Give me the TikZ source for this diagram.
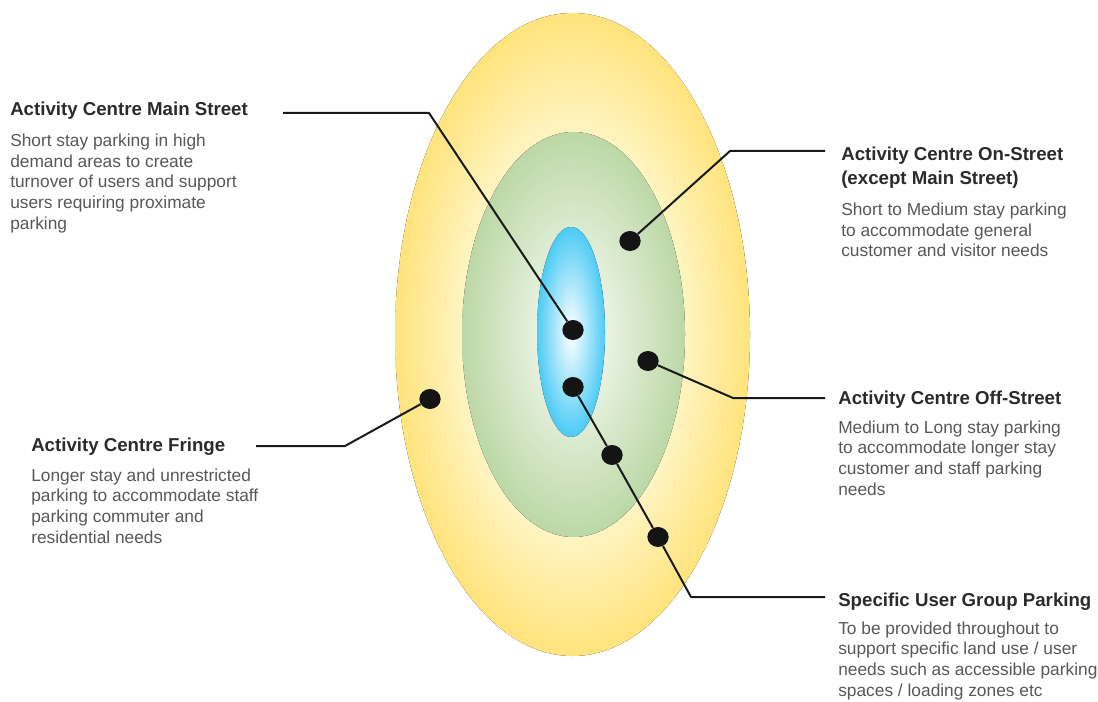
\documentclass[tikz,border=0pt]{standalone}
\usepackage{fontspec}
\setmainfont{Liberation Sans}
\usetikzlibrary{shapes.geometric}

\definecolor{yelout}{HTML}{FFE37C}
\definecolor{yelin}{HTML}{FFF6C8}
\definecolor{grnout}{HTML}{BCD8A6}
\definecolor{grnin}{HTML}{EDF5E8}
\definecolor{bluout}{HTML}{4CCBF4}
\definecolor{bluin}{HTML}{EAF9FF}
\definecolor{headgray}{HTML}{2A2A2A}
\definecolor{bodygray}{HTML}{575757}

\pgfdeclareradialshading{yelzone}{\pgfpointorigin}{color(0bp)=(yelin); color(15bp)=(yelin); color(25bp)=(yelout); color(50bp)=(yelout)}
\pgfdeclareradialshading{grnzone}{\pgfpointorigin}{color(0bp)=(grnin); color(6bp)=(grnin); color(25bp)=(grnout); color(50bp)=(grnout)}
\pgfdeclareradialshading{bluzone}{\pgfpointorigin}{color(0bp)=(bluin); color(3bp)=(bluin); color(25bp)=(bluout); color(50bp)=(bluout)}

\begin{document}
\begin{tikzpicture}[
x=0.75pt,y=-0.75pt,
dot/.style={ellipse,fill=black!92,inner sep=0pt,minimum width=16pt,minimum height=15pt},
leader/.style={draw=black!90,line width=1.5pt,line join=round},
head/.style={anchor=base west,inner sep=0pt,align=left,text=headgray,font=\fontsize{14}{18.4}\selectfont\bfseries},
body/.style={anchor=base west,inner sep=0pt,align=left,text=bodygray,font=\fontsize{13}{15.4}\selectfont}
]
\useasboundingbox (0,0) rectangle (1098,702);

% parking zones, outer to inner
\fill[shading=yelzone] (572.5,334.5) ellipse [x radius=177.5,y radius=321.5];
\fill[shading=grnzone] (573.5,334.5) ellipse [x radius=111.5,y radius=202.5];
\fill[shading=bluzone] (571,332) ellipse [x radius=34,y radius=105];

\node[dot] (msdot) at (573,330) {};
\node[dot] (osdot) at (630,241) {};
\node[dot] (offdot) at (648,361) {};
\node[dot] (frdot) at (430,399) {};
\node[dot] (sg1) at (573,387) {};
\node[dot] (sg2) at (612,455) {};
\node[dot] (sg3) at (658,537) {};

\coordinate (msbend) at (429,113);
\coordinate (msend) at (283,113);
\coordinate (osbend) at (730,151);
\coordinate (osend) at (825,151);
\coordinate (offbend) at (733,398);
\coordinate (offend) at (825,398);
\coordinate (frbend) at (345,446);
\coordinate (frend) at (256,446);
\coordinate (sgbend) at (691,597);
\coordinate (sgend) at (825,597);

\foreach \a/\b/\c in {msdot/msbend/msend,osdot/osbend/osend,offdot/offbend/offend,frdot/frbend/frend,sg3/sgbend/sgend}
 \draw[leader] (\a) -- (\b) -- (\c);
\draw[leader] (sg1) -- (sg2) -- (sg3);

% text nodes sit on the baseline of their last line
\node[head] (mshead) at (10,116) {Activity Centre Main Street};
\node[body] (msbody) at (10,229) {Short stay parking in high\\demand areas to create\\turnover of users and support\\users requiring proximate\\parking};
\node[head] (oshead) at (841,185) {Activity Centre On-Street\\(except Main Street)};
\node[body] (osbody) at (841,257) {Short to Medium stay parking\\to accommodate general\\customer and visitor needs};
\node[head] (offhead) at (838,404) {Activity Centre Off-Street};
\node[body] (offbody) at (838,495) {Medium to Long stay parking\\to accommodate longer stay\\customer and staff parking\\needs};
\node[head] (frhead) at (31,451) {Activity Centre Fringe};
\node[body] (frbody) at (31,543) {Longer stay and unrestricted\\parking to accommodate staff\\parking commuter and\\residential needs};
\node[head] (sghead) at (838,606) {Specific User Group Parking};
\node[body] (sgbody) at (838,696) {To be provided throughout to\\support specific land use / user\\needs such as accessible parking\\spaces / loading zones etc};
\end{tikzpicture}
\end{document}
